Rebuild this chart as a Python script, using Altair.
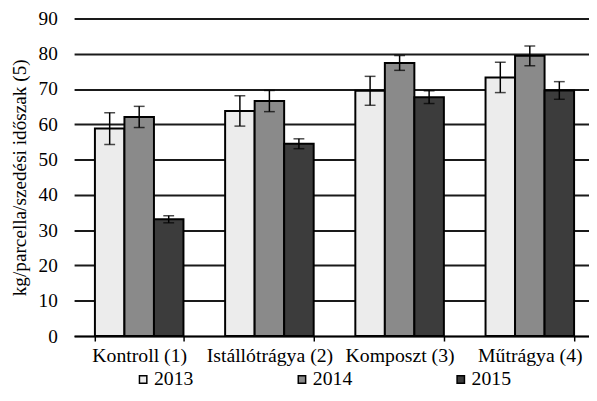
import altair as alt
import pandas as pd

categories = ["Kontroll (1)", "Istállótrágya (2)", "Komposzt (3)", "Műtrágya (4)"]
years = ["2013", "2014", "2015"]
v2013 = [58.8, 63.8, 69.5, 73.3]
v2014 = [62.1, 66.6, 77.4, 79.4]
v2015 = [33.1, 54.5, 67.7, 69.6]
e2013 = [4.5, 4.3, 4.1, 4.3]
e2014 = [3.0, 3.0, 2.1, 2.8]
e2015 = [1.0, 1.4, 1.8, 2.5]
colors = ["#ececec", "#8a8a8a", "#3c3c3c"]
yticks = [0, 10, 20, 30, 40, 50, 60, 70, 80, 90]

rows = []
for i, c in enumerate(categories):
    for yr, vals, errs in zip(years, [v2013, v2014, v2015], [e2013, e2014, e2015]):
        rows.append({"cat": c, "year": yr, "value": vals[i],
                     "lo": vals[i] - errs[i], "hi": vals[i] + errs[i]})
df = pd.DataFrame(rows)

FONT = "Liberation Serif"
YTITLE = "kg/parcella/szedési időszak (5)"

x = alt.X("cat:N", sort=categories, title=None,
          scale=alt.Scale(paddingInner=0.32, paddingOuter=0.16, range=[0, 528]),
          axis=alt.Axis(labelAngle=0, labelFont=FONT, labelFontSize=20, labelColor="black",
                        domainColor="black", domainWidth=1.5, tickBand="extent",
                        tickColor="black", tickSize=5, tickWidth=1.5, labelPadding=5,
                        grid=False))
xo = alt.XOffset("year:N", sort=years, scale=alt.Scale(paddingInner=0, paddingOuter=0))

yaxis = alt.Axis(values=yticks, grid=True, gridColor="#1a1a1a", gridWidth=2,
                 domain=False, ticks=False, labelFont=FONT, labelFontSize=19.5,
                 labelColor="black", labelPadding=17, labelOverlap=False,
                 titleFont=FONT, titleFontSize=19.5,
                 titleFontWeight="normal", titlePadding=9, titleColor="black")
yscale = alt.Scale(domain=[0, 90], nice=False)


def yenc(field):
    return alt.Y(field, scale=yscale, title=YTITLE, axis=yaxis)


bars = alt.Chart(df).mark_bar(stroke="black", strokeWidth=2).encode(
    x=x, xOffset=xo,
    y=yenc("value:Q"),
    fill=alt.Fill("year:N", sort=years,
                  scale=alt.Scale(domain=years, range=colors),
                  legend=alt.Legend(title=None, orient="none", legendX=60, legendY=356,
                                    direction="horizontal", columns=3, symbolType="square",
                                    symbolSize=56, symbolStrokeColor="black",
                                    symbolStrokeWidth=1.5, labelFont=FONT, labelFontSize=20,
                                    labelColor="black", labelOffset=1, columnPadding=100,
                                    padding=0)),
)

rules = alt.Chart(df).mark_rule(color="black", strokeWidth=1.5).encode(
    x=x, xOffset=xo, y=yenc("lo:Q"), y2="hi:Q")
caps_hi = alt.Chart(df).mark_tick(orient="horizontal", size=11, thickness=1.5, color="black").encode(
    x=x, xOffset=xo, y=yenc("hi:Q"))
caps_lo = alt.Chart(df).mark_tick(orient="horizontal", size=11, thickness=1.5, color="black").encode(
    x=x, xOffset=xo, y=yenc("lo:Q"))

chart = alt.layer(bars, rules, caps_hi, caps_lo).properties(
    width=522, height=322,
    autosize=alt.AutoSizeParams(type="none"),
    padding={"left": 67, "top": 8, "right": 0, "bottom": 50},
    background="white",
).configure_view(stroke=None)

chart.save("out.html", embed_options={"renderer": "svg", "actions": False})
